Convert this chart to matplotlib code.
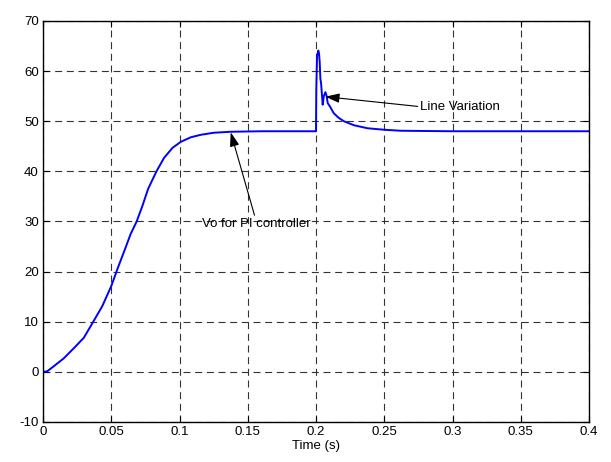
import matplotlib
matplotlib.use('Agg')
import matplotlib.pyplot as plt

plt.rcParams['font.family'] = ['Liberation Sans', 'DejaVu Sans']
plt.rcParams['font.size'] = 9.5
plt.rcParams['axes.unicode_minus'] = False

# output voltage
time = [0, 0.003, 0.0078, 0.0152, 0.0225, 0.0299, 0.0368, 0.0434, 0.05,
        0.0549, 0.0605, 0.0642, 0.0686, 0.0728, 0.077, 0.0831, 0.0887,
        0.0949, 0.101, 0.1083, 0.1157, 0.125, 0.1375, 0.16, 0.1998,
        0.2, 0.2002, 0.20074, 0.2017, 0.2022, 0.2027, 0.2032, 0.2037, 0.2049,
        0.2057, 0.2069, 0.2078, 0.2086, 0.2101, 0.213, 0.2165, 0.2204, 0.2278,
        0.2377, 0.25, 0.2623, 0.3, 0.4]
vo = [0, 0.1, 1.1, 2.7, 4.7, 6.8, 10, 13.1, 17.1,
      20.8, 24.8, 27.5, 30, 33.1, 36.5, 40, 42.7,
      44.7, 45.9, 46.8, 47.3, 47.7, 47.9, 48, 48,
      48, 56, 63, 64.1, 63.5, 61.8, 58.5, 57.6, 53.3,
      55, 55.8, 55, 53.6, 53, 51.6, 50.7, 50, 49.2,
      48.6, 48.3, 48.1, 48, 48]

xticks = [0, 0.05, 0.1, 0.15, 0.2, 0.25, 0.3, 0.35, 0.4]
xtick_labels = ['0', '0.05', '0.1', '0.15', '0.2', '0.25', '0.3', '0.35', '0.4']
yticks = [-10, 0, 10, 20, 30, 40, 50, 60, 70]

fig = plt.figure(figsize=(6.11, 4.62), dpi=100)
ax = fig.add_axes([0.0704, 0.0866, 0.8936, 0.868])

ax.plot(time, vo, color='#0000ff', lw=1.4)

ax.set_xlim(0, 0.4)
ax.set_ylim(-10, 70)
ax.set_xticks(xticks)
ax.set_xticklabels(xtick_labels)
ax.set_yticks(yticks)
ax.tick_params(direction='in', top=True, right=True, length=4, width=0.8, pad=3)
ax.grid(True, color='#333333', lw=0.8, linestyle=(0, (6.3, 4.2)))
for s in ax.spines.values():
    s.set_linewidth(1.0)
ax.set_xlabel('Time (s)', labelpad=1)

ax.annotate('Line Variation', xy=(0.2068, 54.9), xytext=(0.2765, 52.9),
            ha='left', va='center', fontsize=9.5,
            arrowprops=dict(arrowstyle='-|>,head_length=0.9,head_width=0.3',
                            color='black', lw=0.8, relpos=(0, 0.5),
                            shrinkA=0, shrinkB=0))
ax.annotate('Vo for PI controller', xy=(0.1375, 47.8), xytext=(0.1559, 29.5),
            ha='center', va='center', fontsize=9.5,
            arrowprops=dict(arrowstyle='-|>,head_length=0.9,head_width=0.3',
                            color='black', lw=0.8, relpos=(0.5, 0.85),
                            shrinkA=0, shrinkB=0))

fig.savefig('out.png', dpi=100)
